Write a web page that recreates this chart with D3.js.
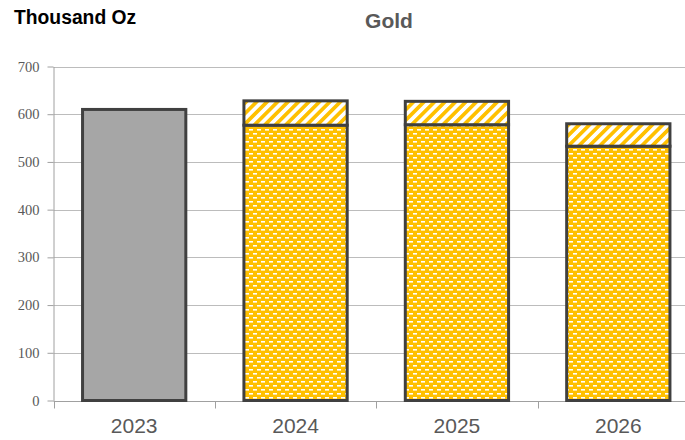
<!DOCTYPE html>
<html>
<head>
<meta charset="utf-8">
<script src="https://cdn.jsdelivr.net/npm/d3@7"></script>
<style>
  body { margin: 0; background: #fff; }
  svg { display: block; }
</style>
</head>
<body>
<div id="chart"></div>
<script>
// data
const years = ["2023", "2024", "2025", "2026"];
const baseValues = [610, 577, 578, 533];     // solid part (2023 actual, rest dotted gold)
const upsideValues = [0, 51, 49, 47];       // hatched part on top
const yTicks = [0, 100, 200, 300, 400, 500, 600, 700];

const width = 685, height = 440;
const margin = { top: 66.5, right: -14, bottom: 39, left: 53.5 };

const svg = d3.select("#chart")
  .append("svg")
  .attr("width", width)
  .attr("height", height);

// patterns
const defs = svg.append("defs");

const dots = defs.append("pattern")
  .attr("id", "goldDots")
  .attr("patternUnits", "userSpaceOnUse")
  .attr("width", 8)
  .attr("height", 8);
dots.append("rect").attr("width", 8).attr("height", 8).attr("fill", "#FFC000");
dots.append("rect").attr("x", 1).attr("y", 1).attr("width", 4).attr("height", 1.6).attr("fill", "#fff");
dots.append("rect").attr("x", 5).attr("y", 5).attr("width", 4).attr("height", 1.6).attr("fill", "#fff");
dots.append("rect").attr("x", -3).attr("y", 5).attr("width", 4).attr("height", 1.6).attr("fill", "#fff");

const hatch = defs.append("pattern")
  .attr("id", "goldHatch")
  .attr("patternUnits", "userSpaceOnUse")
  .attr("width", 7.4)
  .attr("height", 10)
  .attr("patternTransform", "rotate(45)");
hatch.append("rect").attr("width", 7.4).attr("height", 10).attr("fill", "#fff");
hatch.append("rect").attr("width", 3.7).attr("height", 10).attr("fill", "#FFC000");

// scales
const x = d3.scaleBand()
  .domain(years)
  .range([margin.left, width - margin.right])
  .paddingInner(0.36)
  .paddingOuter(0.18);

const y = d3.scaleLinear()
  .domain([0, 700])
  .range([height - margin.bottom - 0.5, margin.top]);

// gridlines
svg.append("g")
  .selectAll("line")
  .data(yTicks.filter(d => d > 0))
  .enter()
  .append("line")
  .attr("x1", margin.left)
  .attr("x2", width)
  .attr("y1", d => Math.round(y(d)) + 0.5)
  .attr("y2", d => Math.round(y(d)) + 0.5)
  .attr("stroke", "#bcbcbc")
  .attr("stroke-width", 1);

// y axis
const yAxis = svg.append("g")
  .attr("transform", `translate(${margin.left},0)`)
  .call(d3.axisLeft(y).tickValues(yTicks).tickSize(6).tickPadding(8).tickSizeOuter(0));
yAxis.select(".domain").attr("stroke", "#a0a0a0");
yAxis.selectAll(".tick line").attr("stroke", "#a0a0a0");
yAxis.selectAll("text")
  .attr("font-family", "'Liberation Serif', 'Times New Roman', serif")
  .attr("font-size", 14.5)
  .attr("fill", "#595959");

// x axis
const xAxis = svg.append("g")
  .attr("transform", `translate(0,${Math.round(y(0)) + 0.5})`)
  .call(d3.axisBottom(x).tickSize(0).tickPadding(17));
xAxis.select(".domain").remove();
xAxis.append("line")
  .attr("x1", margin.left).attr("x2", width)
  .attr("stroke", "#a0a0a0");
xAxis.selectAll(".sep")
  .data(years)
  .enter()
  .append("line")
  .attr("class", "sep")
  .attr("x1", d => Math.round(x(d) - x.step() * x.paddingInner() / 2) + 0.5)
  .attr("x2", d => Math.round(x(d) - x.step() * x.paddingInner() / 2) + 0.5)
  .attr("y1", 0).attr("y2", 7)
  .attr("stroke", "#a0a0a0");
xAxis.selectAll("text")
  .attr("font-family", "'Liberation Sans', Arial, sans-serif")
  .attr("font-size", 21)
  .attr("fill", "#595959");

// bars
const bars = svg.append("g");
years.forEach((yr, i) => {
  const base = baseValues[i];
  const top = base + upsideValues[i];
  bars.append("rect")
    .attr("x", x(yr))
    .attr("y", y(base))
    .attr("width", x.bandwidth())
    .attr("height", y(0) - y(base))
    .attr("fill", i === 0 ? "#A6A6A6" : "url(#goldDots)")
    .attr("stroke", "#404040")
    .attr("stroke-width", 3);
  if (upsideValues[i] > 0) {
    bars.append("rect")
      .attr("x", x(yr))
      .attr("y", y(top))
      .attr("width", x.bandwidth())
      .attr("height", y(base) - y(top))
      .attr("fill", "url(#goldHatch)")
      .attr("stroke", "#404040")
      .attr("stroke-width", 3);
  }
});

// titles
svg.append("text")
  .attr("transform", "translate(14,24) scale(0.92,1)")
  .text("Thousand Oz")
  .style("font-family", "'Liberation Sans', Arial, sans-serif")
  .style("font-weight", "bold")
  .style("font-size", "21px")
  .attr("fill", "#000");

svg.append("text")
  .attr("x", 389)
  .attr("y", 28)
  .attr("text-anchor", "middle")
  .text("Gold")
  .style("font-family", "'Liberation Sans', Arial, sans-serif")
  .style("font-weight", "bold")
  .style("font-size", "21px")
  .attr("fill", "#595959");
</script>
</body>
</html>
